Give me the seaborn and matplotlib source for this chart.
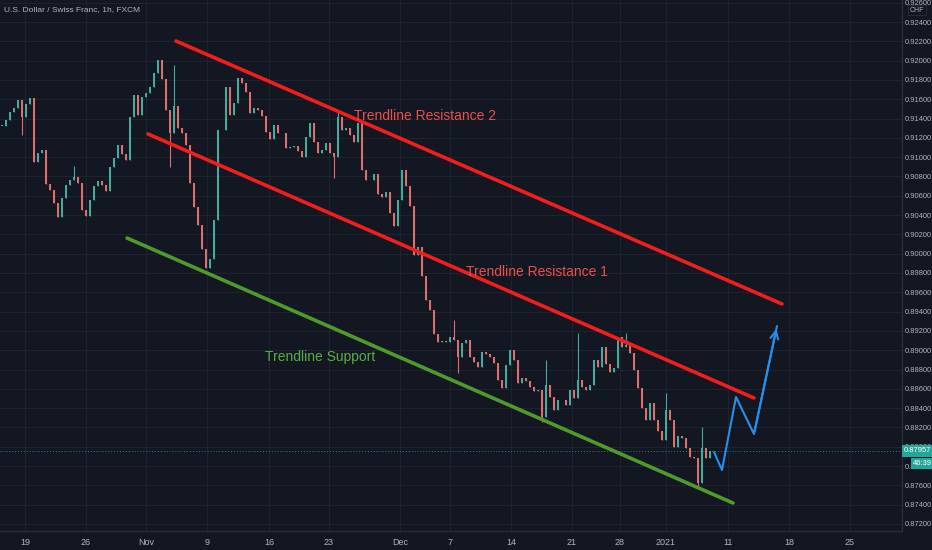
import numpy as np
import matplotlib.pyplot as plt
import seaborn as sns

# hourly USDCHF closes, one value per ~7 bars
closes = [
    0.91323, 0.91385, 0.91468, 0.91509, 0.91592, 0.91416, 0.91551, 0.91613, 0.90950, 0.91043,
    0.91074, 0.90722, 0.90660, 0.90525, 0.90380, 0.90577, 0.90711, 0.90763, 0.90794, 0.90732,
    0.90452, 0.90390, 0.90556, 0.90701, 0.90753, 0.90711, 0.90649, 0.90898, 0.90991, 0.91126,
    0.91033, 0.90970, 0.91416, 0.91644, 0.91437, 0.91623, 0.91665, 0.91727, 0.91872, 0.92006,
    0.91810, 0.91488, 0.91250, 0.91530, 0.91302, 0.91250, 0.91126, 0.90732, 0.90484, 0.90297,
    0.90048, 0.89852, 0.89945, 0.90349, 0.91281, 0.91281, 0.91727, 0.91437, 0.91561, 0.91820,
    0.91768, 0.91675, 0.91457, 0.91509, 0.91488, 0.91426, 0.91261, 0.91188, 0.91333, 0.91250,
    0.91250, 0.91095, 0.91105, 0.91115, 0.91064, 0.91002, 0.91209, 0.91354, 0.91157, 0.91043,
    0.91074, 0.91147, 0.91043, 0.91002, 0.91416, 0.91281, 0.91302, 0.91229, 0.91157, 0.91354,
    0.90867, 0.90763, 0.90763, 0.90825, 0.90618, 0.90587, 0.90639, 0.90421, 0.90287, 0.90556,
    0.90867, 0.90701, 0.90494, 0.89986, 0.90069, 0.89769, 0.89520, 0.89416, 0.89168, 0.89085,
    0.89095, 0.89085, 0.89137, 0.89106, 0.88930, 0.89075, 0.89106, 0.88930, 0.88878, 0.88826,
    0.88981, 0.88961, 0.88930, 0.88867, 0.88691, 0.88608, 0.88847, 0.89002, 0.88898, 0.88660,
    0.88712, 0.88681, 0.88619, 0.88577, 0.88588, 0.88308, 0.88639, 0.88515, 0.88380, 0.88484,
    0.88484, 0.88432, 0.88588, 0.88505, 0.88691, 0.88619, 0.88588, 0.88639, 0.88898, 0.88826,
    0.89033, 0.88857, 0.88774, 0.88816, 0.89137, 0.89033, 0.89054, 0.88971, 0.88795, 0.88608,
    0.88401, 0.88277, 0.88453, 0.88277, 0.88163, 0.88070, 0.88380, 0.88277, 0.87997, 0.88111,
    0.88090, 0.87987, 0.87894, 0.87883, 0.87624, 0.87987, 0.87883, 0.87957,
]

# long wicks that stick out of the price path
wick_idx = [5, 18, 42, 43, 83, 84, 113, 114, 135, 136, 144, 156, 166, 174, 175]
wick_val = [0.91230, 0.90908, 0.90898, 0.91955, 0.90784, 0.91468, 0.89313, 0.88764,
            0.88256, 0.88898, 0.89178, 0.89178, 0.88557, 0.87583, 0.88204]

date_pos = [5.75, 21, 36, 51.25, 66.75, 81.75, 99.5, 112, 127.25, 142.5, 154.5, 166, 181.5, 196.75, 212]
date_labels = ["19", "26", "Nov", "9", "16", "23", "Dec", "7", "14", "21", "28", "2021", "11", "18", "25"]

res2_x, res2_y = [43.5, 195], [0.92203, 0.89479]
res1_x, res1_y = [36.5, 188], [0.91240, 0.88505]
sup_x, sup_y = [31.25, 182.75], [0.90162, 0.87417]
path_x = [178, 180, 183.5, 188, 193.75]
path_y = [0.87945, 0.87759, 0.88515, 0.88132, 0.89250]

last_price = 0.87957
countdown = "46:39"

BG = "#131722"
GRID = "#1f2330"
TXT = "#b2b5be"
UP = "#26a69a"
DOWN = "#ef5350"

sns.set_theme(style="dark", rc={"axes.facecolor": BG, "figure.facecolor": BG})
plt.rcParams["font.family"] = ["Liberation Sans", "DejaVu Sans"]

fig = plt.figure(figsize=(9.32, 5.5), dpi=100)
ax = fig.add_axes([0, 19 / 550, 902 / 932, 531 / 550])

# candles: open = previous close
closes = np.array(closes)
opens = np.r_[closes[0], closes[:-1]]
highs = np.maximum(opens, closes)
lows = np.minimum(opens, closes)
for i, v in zip(wick_idx, wick_val):
    if v > highs[i]:
        highs[i] = v
    else:
        lows[i] = v
idx = np.arange(len(closes))
colors = np.where(closes >= opens, "#45ab9f", "#de6f6d")

ax.vlines(idx, lows, highs, colors=colors, linewidth=0.8, zorder=3)
ax.bar(idx, np.maximum(np.abs(closes - opens), 0.00005), bottom=np.minimum(opens, closes),
       width=0.7, color=colors, linewidth=0, zorder=3)

# trendlines
sns.lineplot(x=res2_x, y=res2_y, ax=ax, color="#f21d1d", linewidth=2.6, zorder=4)
sns.lineplot(x=res1_x, y=res1_y, ax=ax, color="#f21d1d", linewidth=2.6, zorder=4)
sns.lineplot(x=sup_x, y=sup_y, ax=ax, color="#4e9a2a", linewidth=2.6, zorder=4)
sns.lineplot(x=path_x, y=path_y, ax=ax, color="#2a8ee8", linewidth=1.5, sort=False, zorder=4)
ax.annotate("", xy=(path_x[-1], path_y[-1]), xytext=(path_x[-2], path_y[-2]),
            arrowprops=dict(arrowstyle="->", color="#2a8ee8", lw=1.5, mutation_scale=14), zorder=4)

lbl = dict(fontsize=10, ha="center", va="center", zorder=5)
ax.text(105.75, 0.91426, "Trendline Resistance 2", color="#e8524c", **lbl)
ax.text(133.75, 0.89810, "Trendline Resistance 1", color="#e8524c", **lbl)
ax.text(79.5, 0.88930, "Trendline Support", color="#58b040", **lbl)

# last price line
ax.axhline(last_price, color=UP, linewidth=0.7, linestyle=(0, (1, 2)), alpha=0.8, zorder=2)

ax.set_xlim(-0.5, 225)
ax.set_ylim(0.87127, 0.92628)
ax.set_xticks(date_pos, date_labels)
ax.set_yticks(np.arange(0.872, 0.9265, 0.002))
ax.yaxis.set_major_formatter(plt.FormatStrFormatter("%.5f"))
ax.yaxis.tick_right()
ax.tick_params(axis="y", colors=TXT, labelsize=5.4, length=1, pad=0.8, color="#2a2e39")
ax.tick_params(axis="x", colors=TXT, labelsize=6.5, length=0, pad=5)
ax.grid(True, color=GRID, linewidth=0.8)
for s in ["top", "left"]:
    ax.spines[s].set_visible(False)
for s in ["right", "bottom"]:
    ax.spines[s].set_color("#2a2e39")
    ax.spines[s].set_linewidth(1)

# price scale badges
ax.text(1.002, last_price, "0.87957", transform=ax.get_yaxis_transform(), color="white", fontsize=5.4,
        ha="left", va="center", clip_on=False, zorder=6,
        bbox=dict(boxstyle="square,pad=0.3", fc=UP, ec="none"))
ax.text(1.0125, 0.87825, countdown, transform=ax.get_yaxis_transform(), color="white", fontsize=5.4,
        ha="left", va="center", clip_on=False, zorder=6,
        bbox=dict(boxstyle="square,pad=0.3", fc=UP, ec="none"))
fig.text(917 / 932, 1 - 10 / 550, "CHF", color=TXT, fontsize=5, ha="center", va="center", zorder=6,
         bbox=dict(boxstyle="square,pad=0.25", fc=BG, ec="#2a2e39", lw=0.6))

fig.text(4 / 932, 1 - 10 / 550, "U.S. Dollar / Swiss Franc, 1h, FXCM", color=TXT, fontsize=6, ha="left", va="center")

fig.savefig("out.png", dpi=100, facecolor=BG)
